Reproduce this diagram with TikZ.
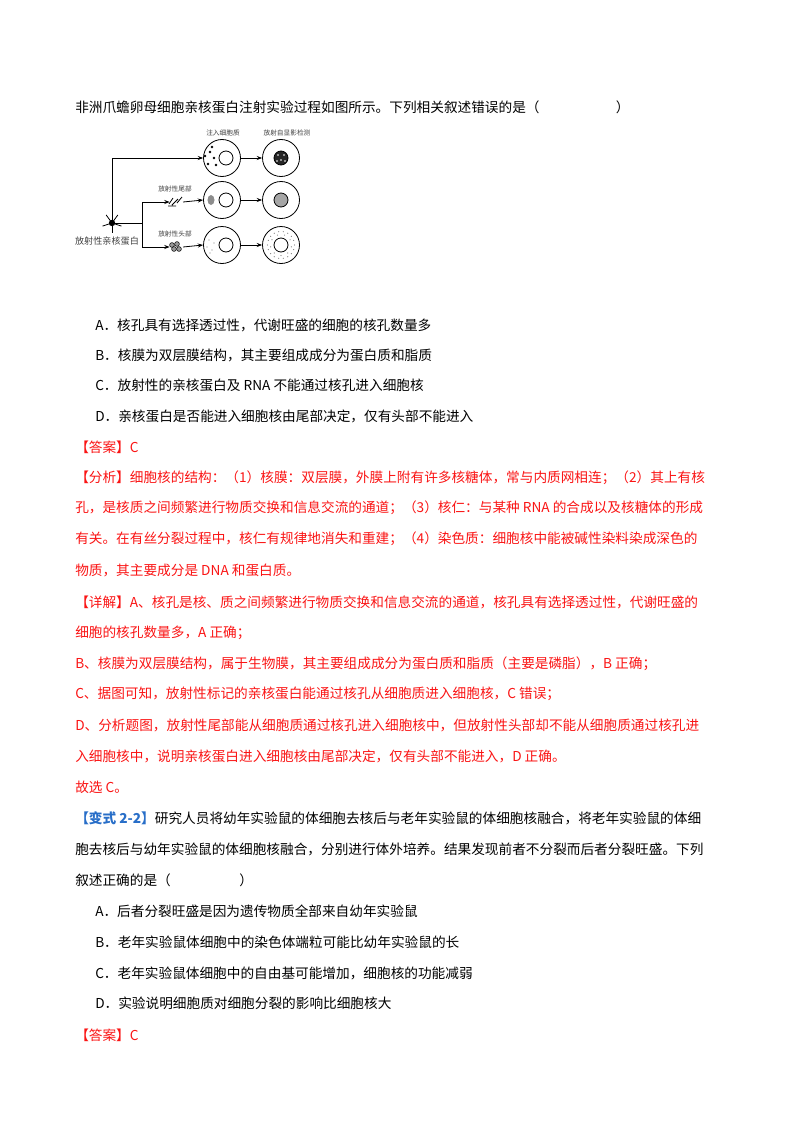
\documentclass[tikz,border=0pt]{standalone}
\usepackage{fontspec}
\setmainfont{Noto Sans CJK SC}
\usepackage{tikz}
\usetikzlibrary{positioning,arrows.meta}
\definecolor{ansred}{RGB}{250,20,20}
\definecolor{varblue}{RGB}{40,110,200}
\newlength{\pxu}\setlength{\pxu}{0.2625mm}
\tikzset{
  txt/.style={anchor=west,inner sep=0pt,font=\fontsize{10.2}{12}\selectfont},
  red/.style={txt,text=ansred},
  lbl/.style={inner sep=0pt,font=\fontsize{5}{6}\selectfont,text=black!75},
  cell/.style={circle,draw,semithick,minimum size=37\pxu,inner sep=0pt},
  nucl/.style={circle,draw,semithick,minimum size=14\pxu,inner sep=0pt},
  arr/.style={-{Stealth[length=4pt]},semithick}
}
\begin{document}
\begin{tikzpicture}[x=0.2625mm,y=-0.2625mm]
\useasboundingbox (0,0) rectangle (800,1132);
% question
\node[txt] (q) at (75,107) {非洲爪蟾卵母细胞亲核蛋白注射实验过程如图所示。下列相关叙述错误的是（\hspace{20mm}）};
% diagram
\node (prot) at (112,223) {};
\fill (prot) circle (3.2);
\foreach \a in {0,72,144,216,288} \draw[semithick] (prot.center) -- ++(\a+18:10);
\node[lbl,font=\fontsize{6.8}{7}\selectfont] (plab) at (107,241) {放射性亲核蛋白};
\node[cell] (c1) at (222,158) {}; \node[nucl] (n1) at (226,158) {};
\node[cell] (d1) at (281,158) {}; \node[nucl,fill=black!85] (m1) at (281,158) {};
\node[cell] (c2) at (222,200) {}; \node[nucl] (n2) at (226,200) {};
\node[cell] (d2) at (281,200) {}; \node[nucl,fill=black!35] (m2) at (281,200) {};
\node[cell] (c3) at (222,245) {}; \node[nucl] (n3) at (226,245) {};
\node[cell] (d3) at (281,245) {}; \node[nucl] (m3) at (281,245) {};
\node[lbl] (l1) at (223,133) {注入细胞质};
\node[lbl] (l2) at (287,133) {放射自显影检测};
\node[lbl] (l3) at (175,189) {放射性尾部};
\node[lbl] (l4) at (175,234) {放射性头部};
% fragments
\node (tail) at (175,202) {}; \node (head) at (175,247) {};
\draw[semithick] (169,204) -- (173,198) (172,205) -- (178,199) (177,203) -- (182,197) (168,206) -- (176,206);
\foreach \p in {(172,245),(177,244),(174,249),(179,249)} \draw[fill=black!40] \p circle (2.4);
% dots
\foreach \p in {(210,152),(214,158),(208,164),(216,165),(212,147),(205,156)} \fill \p circle (1.3);
\foreach \p in {(278,155),(284,155),(281,160),(277,161),(285,161)} \fill[white] \p circle (0.8);
\fill[black!45] (211,200) ellipse (3.5 and 5);
\foreach \p in {(209,240),(212,250),(207,247),(214,243),(210,253)} \fill[black!50] \p circle (0.6);
\foreach \a in {0,20,...,340} \fill[black!50] (d3.center) ++(\a:13.5) circle (0.6);
\foreach \a in {10,50,...,350} \fill[black!50] (d3.center) ++(\a:10.5) circle (0.6);
% arrows
\coordinate (br) at (142,223);
\draw[arr] (prot.center) |- (c1.west);
\draw[semithick] (prot.center) -- (br);
\draw[arr] (br) |- ([xshift=-4pt]tail.center);
\draw[arr] (br) |- ([xshift=-4pt]head.center);
\draw[arr] ([xshift=6pt]tail.center) -- (c2.west);
\draw[arr] ([xshift=6pt]head.center) -- (c3.west);
\draw[arr] (c1) -- (d1); \draw[arr] (c2) -- (d2); \draw[arr] (c3) -- (d3);
% options
\node[txt] (oa) at (95,325) {A．核孔具有选择透过性，代谢旺盛的细胞的核孔数量多};
\node[txt] (ob) at (95,355) {B．核膜为双层膜结构，其主要组成成分为蛋白质和脂质};
\node[txt] (oc) at (95,385) {C．放射性的亲核蛋白及 RNA 不能通过核孔进入细胞核};
\node[txt] (od) at (95,416) {D．亲核蛋白是否能进入细胞核由尾部决定，仅有头部不能进入};
% answer
\node[red] (ans) at (75,447) {【答案】C};
\node[red] (f1) at (75,478) {【分析】细胞核的结构：（1）核膜：双层膜，外膜上附有许多核糖体，常与内质网相连；（2）其上有核};
\node[red] (f2) at (75,508) {孔，是核质之间频繁进行物质交换和信息交流的通道；（3）核仁：与某种 RNA 的合成以及核糖体的形成};
\node[red] (f3) at (75,539) {有关。在有丝分裂过程中，核仁有规律地消失和重建；（4）染色质：细胞核中能被碱性染料染成深色的};
\node[red] (f4) at (75,570) {物质，其主要成分是 DNA 和蛋白质。};
\node[red] (x1) at (75,602) {【详解】A、核孔是核、质之间频繁进行物质交换和信息交流的通道，核孔具有选择透过性，代谢旺盛的};
\node[red] (x2) at (75,633) {细胞的核孔数量多，A 正确；};
\node[red] (x3) at (75,664) {B、核膜为双层膜结构，属于生物膜，其主要组成成分为蛋白质和脂质（主要是磷脂），B 正确；};
\node[red] (x4) at (75,694) {C、据图可知，放射性标记的亲核蛋白能通过核孔从细胞质进入细胞核，C 错误；};
\node[red] (x5) at (75,725) {D、分析题图，放射性尾部能从细胞质通过核孔进入细胞核中，但放射性头部却不能从细胞质通过核孔进};
\node[red] (x6) at (75,756) {入细胞核中，说明亲核蛋白进入细胞核由尾部决定，仅有头部不能进入，D 正确。};
\node[red] (x7) at (75,787) {故选 C。};
% variant
\node[txt] (v1) at (75,818) {\textcolor{varblue}{\bfseries 【变式 2-2】}研究人员将幼年实验鼠的体细胞去核后与老年实验鼠的体细胞核融合，将老年实验鼠的体细};
\node[txt] (v2) at (75,849) {胞去核后与幼年实验鼠的体细胞核融合，分别进行体外培养。结果发现前者不分裂而后者分裂旺盛。下列};
\node[txt] (v3) at (75,880) {叙述正确的是（\hspace{18mm}）};
\node[txt] (va) at (95,911) {A．后者分裂旺盛是因为遗传物质全部来自幼年实验鼠};
\node[txt] (vb) at (95,942) {B．老年实验鼠体细胞中的染色体端粒可能比幼年实验鼠的长};
\node[txt] (vc) at (95,973) {C．老年实验鼠体细胞中的自由基可能增加，细胞核的功能减弱};
\node[txt] (vd) at (95,1003) {D．实验说明细胞质对细胞分裂的影响比细胞核大};
\node[red] (ans2) at (75,1035) {【答案】C};
\end{tikzpicture}
\end{document}
